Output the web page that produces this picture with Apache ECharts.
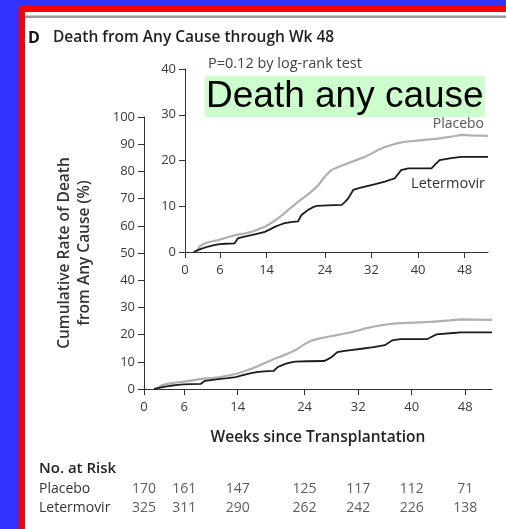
<!DOCTYPE html>
<html>
<head>
<meta charset="utf-8">
<script src="https://cdn.jsdelivr.net/npm/echarts@6/dist/echarts.min.js"></script>
<style>
  html, body { margin: 0; padding: 0; background: #3333ff; overflow: hidden; }
  #chart { width: 100vw; height: 100vh; }
</style>
</head>
<body>
<div id="chart"></div>
<script>
// Week positions used for axis ticks and the numbers-at-risk table
const weekTicks = [0, 6, 14, 24, 32, 40, 48];

// Kaplan-Meier cumulative death rate (%), placebo arm
const placeboWeeks = [2.0, 2.5, 3.4, 4.5, 5.7, 7.0, 8.6, 10.0, 11.4, 12.5, 13.7, 15.0, 16.0, 17.0, 17.7, 18.6, 19.4, 20.5, 21.7, 22.8, 24.0, 25.1, 26.3, 27.5, 28.6, 29.8, 30.9, 32.0, 33.1, 34.2, 35.4, 36.5, 37.7, 39.5, 41.1, 43.4, 45.7, 47.4, 49.0, 52.0];
const placeboRate  = [0.0, 1.2, 1.9, 2.3, 2.6, 3.1, 3.7, 4.0, 4.4, 4.9, 5.5, 6.5, 7.4, 8.4, 9.2, 10.1, 11.0, 12.0, 13.2, 14.5, 16.5, 17.9, 18.6, 19.2, 19.7, 20.3, 20.8, 21.5, 22.3, 22.9, 23.4, 23.8, 24.1, 24.3, 24.5, 24.8, 25.2, 25.6, 25.5, 25.4];

// Kaplan-Meier cumulative death rate (%), letermovir arm
const letermovirWeeks = [1.5, 2.2, 3.0, 4.0, 5.0, 6.0, 7.0, 8.5, 9.1, 10.0, 11.4, 12.5, 13.7, 14.5, 15.4, 16.2, 17.1, 18.5, 19.4, 20.0, 20.6, 21.1, 22.0, 22.6, 24.5, 26.9, 27.5, 28.0, 28.9, 30.0, 30.9, 32.5, 34.3, 36.0, 37.1, 38.3, 42.3, 43.0, 43.7, 45.7, 47.4, 52.0];
const letermovirRate  = [0.0, 0.4, 0.8, 1.2, 1.5, 1.7, 1.8, 1.9, 3.0, 3.3, 3.7, 4.0, 4.4, 4.9, 5.5, 5.9, 6.3, 6.6, 6.7, 8.1, 8.7, 9.2, 9.8, 10.1, 10.2, 10.3, 11.0, 11.7, 13.6, 14.0, 14.3, 14.8, 15.4, 16.1, 17.9, 18.3, 18.3, 19.2, 20.1, 20.5, 20.8, 20.8];

// Numbers at risk at each tick week
const riskRows = ['Letermovir', 'Placebo'];
const riskPlacebo    = [170, 161, 147, 125, 117, 112, 71];
const riskLetermovir = [325, 311, 290, 262, 242, 226, 138];

const FONT = '"Open Sans", "Noto Sans", sans-serif';
const INK = '#333';
const PLACEBO_COLOR = '#b0b0b0';
const LETERMOVIR_COLOR = '#1c1c1c';

const pairs = (xs, ys) => xs.map((x, i) => [x, ys[i]]);

function weekAxis(gridIndex) {
  return {
    type: 'value', gridIndex, min: 0, max: 52,
    axisLine: { show: true, onZero: false, lineStyle: { color: INK, width: 1 } },
    axisTick: { show: true, length: 6, customValues: weekTicks, lineStyle: { color: INK } },
    axisLabel: { customValues: weekTicks, margin: 12, fontFamily: FONT, fontSize: 13, color: '#3a3a3a' },
    splitLine: { show: false }
  };
}
function rateAxis(gridIndex, max) {
  return {
    type: 'value', gridIndex, min: 0, max, interval: 10,
    axisLine: { show: true, lineStyle: { color: INK, width: 1 } },
    axisTick: { show: true, length: 6, lineStyle: { color: INK } },
    axisLabel: { margin: 9, fontFamily: FONT, fontSize: 13, color: '#3a3a3a' },
    splitLine: { show: false }
  };
}
function curve(name, data, color, width, axisIndex) {
  return {
    type: 'line', name, data, showSymbol: false, symbol: 'none',
    xAxisIndex: axisIndex, yAxisIndex: axisIndex,
    lineStyle: { color, width, join: 'miter' }, animation: false, silent: true
  };
}

const chart = echarts.init(document.getElementById('chart'), null, { renderer: 'canvas' });

chart.setOption({
  backgroundColor: '#3333ff',
  animation: false,
  grid: [
    { left: 144, top: 117, width: 348, height: 272 },   // full 0-100 scale
    { left: 185, top: 69, width: 303, height: 183 },    // inset 0-40 scale
    { left: 144, top: 479.5, width: 348, height: 38 }   // numbers at risk
  ],
  xAxis: [
    weekAxis(0),
    weekAxis(1),
    { type: 'value', gridIndex: 2, min: 0, max: 52, show: false }
  ],
  yAxis: [
    rateAxis(0, 100),
    rateAxis(1, 40),
    {
      type: 'category', gridIndex: 2, data: riskRows,
      axisLine: { show: false }, axisTick: { show: false },
      axisLabel: { align: 'left', margin: 105, fontFamily: FONT, fontSize: 14, color: INK }
    }
  ],
  series: [
    curve('Placebo', pairs(placeboWeeks, placeboRate), PLACEBO_COLOR, 2.2, 0),
    curve('Letermovir', pairs(letermovirWeeks, letermovirRate), LETERMOVIR_COLOR, 1.8, 0),
    curve('Placebo', pairs(placeboWeeks, placeboRate), PLACEBO_COLOR, 2.2, 1),
    curve('Letermovir', pairs(letermovirWeeks, letermovirRate), LETERMOVIR_COLOR, 1.8, 1),
    {
      type: 'scatter', xAxisIndex: 2, yAxisIndex: 2, symbolSize: 0, silent: true,
      data: weekTicks.map((w, i) => [w, 'Placebo', riskPlacebo[i]])
        .concat(weekTicks.map((w, i) => [w, 'Letermovir', riskLetermovir[i]])),
      label: {
        show: true, position: 'inside', formatter: p => p.value[2],
        fontFamily: FONT, fontSize: 14, color: INK
      }
    }
  ],
  graphic: [
    // frame: red border, white panel, rule at the top
    { type: 'rect', z: -20, shape: { x: 19, y: 6, width: 700, height: 700 }, style: { fill: '#ff0000' } },
    { type: 'rect', z: -19, shape: { x: 25, y: 12, width: 700, height: 700 }, style: { fill: '#ffffff' } },
    { type: 'rect', z: -18, shape: { x: 25, y: 15.5, width: 700, height: 2.5 }, style: { fill: '#9a9a9a' } },
    // panel heading
    { type: 'text', x: 28, y: 38, style: { text: 'D', fontFamily: FONT, fontWeight: 700, fontSize: 16, fill: '#111', verticalAlign: 'middle' } },
    { type: 'text', x: 53, y: 38, style: { text: 'Death from Any Cause through Wk 48', fontFamily: FONT, fontWeight: 600, fontSize: 15.5, fill: '#222', verticalAlign: 'middle' } },
    { type: 'text', x: 208, y: 64, style: { text: 'P=0.12 by log-rank test', fontFamily: FONT, fontSize: 14.5, fill: '#444', verticalAlign: 'middle' } },
    // highlighted caption
    { type: 'rect', shape: { x: 205, y: 76, width: 280, height: 41 }, style: { fill: '#ccffcc' } },
    { type: 'text', x: 206, y: 97, style: { text: 'Death any cause', fontFamily: '"Liberation Sans", Arial, sans-serif', fontSize: 37, fill: '#000', verticalAlign: 'middle' } },
    // curve labels
    { type: 'text', x: 484, y: 124, style: { text: 'Placebo', fontFamily: FONT, fontSize: 14, fill: '#555', align: 'right', verticalAlign: 'middle' } },
    { type: 'text', x: 485, y: 184, style: { text: 'Letermovir', fontFamily: FONT, fontSize: 14.5, fill: '#333', align: 'right', verticalAlign: 'middle' } },
    // axis titles
    { type: 'text', x: 75, y: 253, rotation: Math.PI / 2,
      style: { text: 'Cumulative Rate of Death\nfrom Any Cause (%)', fontFamily: FONT, fontWeight: 600, fontSize: 15.5, lineHeight: 20, fill: '#333', align: 'center', verticalAlign: 'middle' } },
    { type: 'text', x: 318, y: 438, style: { text: 'Weeks since Transplantation', fontFamily: FONT, fontWeight: 600, fontSize: 15.5, fill: '#222', align: 'center', verticalAlign: 'middle' } },
    { type: 'text', x: 39, y: 469, style: { text: 'No. at Risk', fontFamily: FONT, fontWeight: 600, fontSize: 15, fill: '#222', verticalAlign: 'middle' } }
  ]
});
</script>
</body>
</html>
